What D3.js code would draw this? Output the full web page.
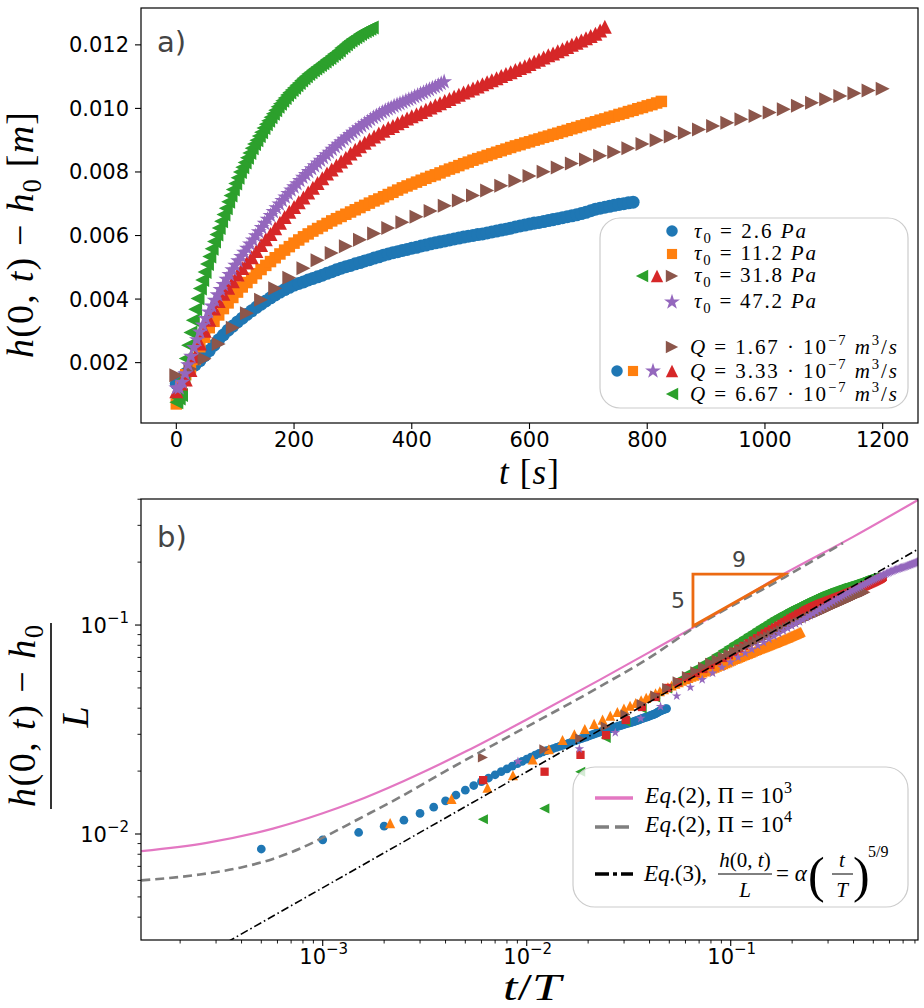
<!DOCTYPE html>
<html><head><meta charset="utf-8">
<script src="https://cdn.jsdelivr.net/npm/d3@7"></script>
<style>body{margin:0;background:#fff}svg{display:block}</style>
</head><body>
<svg id="c" width="924" height="1008"></svg>
<script>
// ================= DATA =================
// h(0,t)-h0 in mm, sampled every dt seconds starting at t = 0
const dtBlue = 8;
const hBlue = [1.34,1.50,1.66,1.80,1.93,2.06,2.22,2.38,2.55,2.72,2.87,3.02,3.15,3.28,3.40,3.52,3.63,3.74,3.84,3.94,4.04,4.13,4.22,4.30,4.37,4.44,4.49,4.54,4.60,4.65,4.70,4.75,4.81,4.86,4.92,4.97,5.02,5.06,5.11,5.15,5.20,5.24,5.29,5.33,5.38,5.42,5.46,5.49,5.53,5.56,5.60,5.63,5.67,5.70,5.74,5.77,5.80,5.83,5.86,5.89,5.92,5.95,5.98,6.00,6.03,6.05,6.08,6.11,6.14,6.17,6.20,6.23,6.27,6.30,6.33,6.36,6.39,6.41,6.44,6.47,6.50,6.53,6.56,6.59,6.62,6.65,6.69,6.73,6.78,6.83,6.86,6.89,6.92,6.95,6.98,7.00,7.03,7.05];
const dtOrange = 8;
const hOrange = [0.70,1.24,1.62,1.83,2.10,2.50,2.80,3.10,3.30,3.50,3.70,3.88,4.05,4.22,4.38,4.52,4.66,4.80,4.93,5.06,5.18,5.30,5.42,5.54,5.65,5.76,5.86,5.96,6.05,6.14,6.22,6.30,6.38,6.46,6.53,6.60,6.67,6.74,6.81,6.88,6.95,7.02,7.09,7.15,7.22,7.29,7.36,7.43,7.50,7.56,7.62,7.68,7.74,7.80,7.86,7.91,7.97,8.03,8.09,8.14,8.20,8.26,8.31,8.37,8.42,8.47,8.52,8.57,8.62,8.67,8.72,8.77,8.82,8.86,8.91,8.95,9.00,9.04,9.09,9.13,9.18,9.22,9.27,9.31,9.36,9.40,9.45,9.49,9.54,9.58,9.63,9.67,9.72,9.76,9.81,9.85,9.90,9.94,9.99,10.03,10.08,10.12,10.17,10.22];
const dtGreen = 4;
const hGreen = [0.75,0.87,0.98,1.47,2.13,2.55,2.95,3.33,3.68,4.02,4.33,4.60,4.85,5.10,5.34,5.58,5.81,6.03,6.24,6.45,6.66,6.86,7.06,7.26,7.45,7.64,7.82,8.00,8.15,8.30,8.45,8.60,8.75,8.88,9.00,9.13,9.25,9.38,9.50,9.61,9.72,9.83,9.94,10.05,10.15,10.24,10.33,10.42,10.50,10.58,10.65,10.73,10.80,10.88,10.95,11.01,11.08,11.14,11.20,11.26,11.31,11.37,11.42,11.48,11.54,11.59,11.65,11.71,11.76,11.82,11.90,11.96,12.02,12.08,12.14,12.19,12.24,12.29,12.34,12.39,12.43,12.47,12.51,12.55];
const dtRed = 8;
const hRed = [1.10,1.34,1.47,1.77,2.20,2.60,3.00,3.35,3.70,3.94,4.17,4.36,4.56,4.77,4.98,5.15,5.32,5.51,5.70,5.88,6.05,6.23,6.40,6.58,6.75,6.90,7.05,7.20,7.35,7.50,7.65,7.80,7.95,8.08,8.20,8.33,8.45,8.58,8.70,8.81,8.92,9.02,9.12,9.21,9.30,9.38,9.45,9.53,9.60,9.68,9.75,9.82,9.89,9.96,10.03,10.10,10.16,10.23,10.30,10.37,10.43,10.50,10.56,10.63,10.69,10.76,10.82,10.89,10.95,11.02,11.08,11.14,11.21,11.27,11.33,11.40,11.47,11.53,11.60,11.67,11.73,11.80,11.86,11.93,12.00,12.07,12.14,12.21,12.28,12.35,12.45,12.57];
const dtBrown = 8;
const hBrown = [1.60,1.66,1.72,1.80,1.88,2.00,2.12,2.27,2.42,2.59,2.76,2.93,3.10,3.25,3.40,3.55,3.70,3.84,3.98,4.10,4.22,4.34,4.45,4.56,4.67,4.78,4.88,4.97,5.06,5.14,5.22,5.30,5.38,5.45,5.52,5.59,5.66,5.73,5.80,5.87,5.93,5.99,6.06,6.12,6.18,6.24,6.30,6.36,6.42,6.48,6.54,6.59,6.65,6.71,6.77,6.82,6.88,6.94,6.99,7.05,7.10,7.15,7.21,7.26,7.31,7.36,7.42,7.47,7.52,7.57,7.62,7.67,7.72,7.77,7.82,7.87,7.92,7.96,8.01,8.05,8.10,8.14,8.18,8.23,8.27,8.31,8.35,8.39,8.43,8.47,8.51,8.55,8.59,8.63,8.67,8.71,8.75,8.79,8.84,8.88,8.92,8.96,9.00,9.04,9.08,9.12,9.16,9.19,9.23,9.27,9.31,9.34,9.38,9.41,9.45,9.48,9.52,9.55,9.59,9.62,9.66,9.69,9.73,9.76,9.80,9.83,9.87,9.90,9.94,9.97,10.01,10.04,10.08,10.11,10.15,10.18,10.22,10.25,10.29,10.32,10.36,10.39,10.42,10.45,10.48,10.51,10.53,10.56,10.58,10.60,10.62];
const dtPurple = 5;
const hPurple = [1.20,1.20,1.38,1.65,1.93,2.20,2.47,2.72,2.96,3.18,3.39,3.59,3.78,3.96,4.13,4.30,4.46,4.62,4.77,4.92,5.06,5.20,5.34,5.47,5.60,5.73,5.86,5.99,6.12,6.25,6.38,6.51,6.63,6.75,6.87,6.99,7.10,7.21,7.32,7.43,7.53,7.63,7.73,7.83,7.92,8.01,8.10,8.19,8.28,8.37,8.45,8.54,8.62,8.71,8.79,8.87,8.95,9.03,9.10,9.18,9.25,9.32,9.39,9.45,9.52,9.58,9.65,9.71,9.77,9.82,9.88,9.93,9.98,10.02,10.07,10.11,10.15,10.19,10.24,10.28,10.32,10.37,10.41,10.46,10.50,10.55,10.59,10.64,10.68,10.73,10.78,10.84];

// normalisation for panel b): t/T and (h-h0)/L  (T in s, L in m)
const normT = [16000, 3738, 656, 1308, 2623, 552];   // blue, orange, green, red, brown, purple
const normL = [0.177, 0.110, 0.074, 0.074, 0.074, 0.054];
const everyTop = [1, 1, 1, 1, 3, 1];
const everyBot = [1, 1, 1, 1, 2, 1];
const seriesColors = ["#1f77b4", "#ff7f0e", "#2ca02c", "#d62728", "#8c564b", "#9467bd"];
const markersTop = ["circle", "square", "triLeft", "triUp", "triRight", "star"];
const markersBot = ["circle", "triUp", "triLeft", "square", "triRight", "star"];

// model curves of panel b)  [t/T, (h-h0)/L]
const eq2Pi3 = [[1.29e-4,0.00828],[2.7e-4,0.00907],[5.7e-4,0.01061],[1e-3,0.01256],[1.4e-3,0.01414],[2.5e-3,0.01795],[5.1e-3,0.0250],[0.01,0.0353],[0.0229,0.0548],[0.0402,0.0744],[0.0653,0.0972],[0.1846,0.1768],[0.4,0.2650],[0.83,0.3975]];
const eq2Pi4 = [[1.29e-4,0.0060],[2.5e-4,0.0064],[3.94e-4,0.0069],[5.7e-4,0.0076],[7.7e-4,0.0085],[1e-3,0.0096],[1.5e-3,0.0118],[2.39e-3,0.0150],[4e-3,0.0200],[7.4e-3,0.0278],[0.0229,0.0508],[0.0402,0.0700],[0.0653,0.0963],[0.1846,0.1697],[0.355,0.2468]];
const eq3 = [[1e-4,0.00154],[1,0.256]];
const slopeTri = [[0.0653,0.1754],[0.1845,0.1754],[0.0653,0.0989]];

const xTicksTop = [0, 200, 400, 600, 800, 1000, 1200];
const yTicksTop = [0.002, 0.004, 0.006, 0.008, 0.010, 0.012];
const yTickLabelsTop = ["0.002", "0.004", "0.006", "0.008", "0.010", "0.012"];
const xTicksBot = [1e-3, 1e-2, 1e-1];
const xTickExpBot = ["\u22123", "\u22122", "\u22121"];
const yTicksBot = [1e-2, 1e-1];
const yTickExpBot = ["\u22122", "\u22121"];

// ================= DRAWING =================
const svg = d3.select("#c");
const SANS = "DejaVu Sans", SERIF = "'Liberation Serif', 'Times New Roman', serif";
const hArr = [hBlue, hOrange, hGreen, hRed, hBrown, hPurple];
const dtArr = [dtBlue, dtOrange, dtGreen, dtRed, dtBrown, dtPurple];

const triUp = {draw(c, s){const a=Math.sqrt(s)/2;c.moveTo(0,-a);c.lineTo(a,a);c.lineTo(-a,a);c.closePath();}};
const triLeft = {draw(c, s){const a=Math.sqrt(s)/2;c.moveTo(-a,0);c.lineTo(a,-a);c.lineTo(a,a);c.closePath();}};
const triRight = {draw(c, s){const a=Math.sqrt(s)/2;c.moveTo(a,0);c.lineTo(-a,-a);c.lineTo(-a,a);c.closePath();}};
function symPath(kind, scale){
  const sz = {circle: 133*scale, square: 132*scale, triUp: 196*scale, triLeft: 196*scale, triRight: 196*scale, star: 78*scale}[kind];
  const ty = {circle: d3.symbolCircle, square: d3.symbolSquare, triUp: triUp, triLeft: triLeft, triRight: triRight, star: d3.symbolStar}[kind];
  return d3.symbol().type(ty).size(sz)();
}

function math(parent, x, y, parts, size, opts = {}) {
  const t = parent.append("text").attr("x", x).attr("y", y)
    .attr("font-family", SERIF).attr("font-size", size).attr("fill", opts.fill || "#000");
  if (opts.anchor) t.attr("text-anchor", opts.anchor);
  if (opts.transform) t.attr("transform", opts.transform);
  let cur = 0;
  parts.forEach(([s, k]) => {
    let off = 0, fs = size;
    if (k.includes("b")) { off = 0.22 * size; fs = 0.7 * size; }
    if (k.includes("p")) { off = -0.42 * size; fs = 0.7 * size; }
    const sp = t.append("tspan").attr("dy", off - cur).attr("font-size", fs).text(s);
    if (k.includes("i")) sp.attr("font-style", "italic");
    cur = off;
  });
  if (opts.len) t.attr("textLength", opts.len).attr("lengthAdjust", opts.adj || "spacing");
  return t;
}

// ---------- panel a ----------
const A = {l: 141, r: 918, t: 8, b: 423};
const xA = d3.scaleLinear().domain([-60, 1260]).range([A.l, A.r]);
const yA = d3.scaleLinear().domain([0.0001, 0.01316]).range([A.b, A.t]);
const gA = svg.append("g");

const drawOrder = [0, 1, 2, 3, 4, 5];
drawOrder.forEach(si => {
  const pts = hArr[si].map((h, i) => ({t: i * dtArr[si], h: h / 1000, i})).filter(d => d.i % everyTop[si] === 0);
  const p = symPath(markersTop[si], 1);
  gA.append("g").selectAll("path").data(pts).join("path")
    .attr("d", p).attr("fill", seriesColors[si])
    .attr("transform", d => `translate(${xA(d.t)},${yA(d.h)})`);
});

gA.append("rect").attr("x", A.l).attr("y", A.t).attr("width", A.r - A.l).attr("height", A.b - A.t)
  .attr("fill", "none").attr("stroke", "#000").attr("stroke-width", 1.2);
xTicksTop.forEach(v => {
  gA.append("line").attr("x1", xA(v)).attr("x2", xA(v)).attr("y1", A.b).attr("y2", A.b + 6).attr("stroke", "#000").attr("stroke-width", 1.1);
  gA.append("text").attr("x", xA(v)).attr("y", A.b + 24).attr("text-anchor", "middle")
    .attr("font-family", SANS).attr("font-size", 21).text(v);
});
yTicksTop.forEach((v, i) => {
  gA.append("line").attr("x1", A.l - 6).attr("x2", A.l).attr("y1", yA(v)).attr("y2", yA(v)).attr("stroke", "#000").attr("stroke-width", 1.1);
  gA.append("text").attr("x", A.l - 12).attr("y", yA(v) + 7.5).attr("text-anchor", "end")
    .attr("font-family", SANS).attr("font-size", 21).text(yTickLabelsTop[i]);
});
gA.append("text").attr("x", 157).attr("y", 52).attr("font-family", SANS).attr("font-size", 29).attr("fill", "#444").text("a)");
math(gA, 529, 484, [["t","i"],[" [",""],["s","i"],["]",""]], 35, {anchor: "middle", len: 60});
math(gA, 33, 235, [["h","i"],["(0, ",""],["t","i"],[") \u2212 ",""],["h","i"],["0","b"],[" [",""],["m","i"],["]",""]], 38,
  {anchor: "middle", transform: "rotate(-90,33,235)", len: 246});

// legend a
const lgA = gA.append("g");
lgA.append("rect").attr("x", 600).attr("y", 218).attr("width", 308).attr("height", 190).attr("rx", 20)
  .attr("fill", "#fff").attr("fill-opacity", 0.8).attr("stroke", "#cccccc").attr("stroke-width", 1.2);
const legRowsA = [
  {y: 231, base: 238, m: [[672, 0]], parts: [["\u03c4","i"],["0","b"],[" = 2.6 ",""],["Pa","i"]], len: 112},
  {y: 254, base: 260, m: [[672, 1]], parts: [["\u03c4","i"],["0","b"],[" = 11.2 ",""],["Pa","i"]], len: 122},
  {y: 276, base: 282, m: [[642, 2], [657, 3], [672, 4]], parts: [["\u03c4","i"],["0","b"],[" = 31.8 ",""],["Pa","i"]], len: 122},
  {y: 302, base: 308, m: [[672, 5]], parts: [["\u03c4","i"],["0","b"],[" = 47.2 ",""],["Pa","i"]], len: 122},
  {y: 347, base: 354, m: [[672, 4]], parts: [["Q","i"],[" = 1.67 \u00b7 10",""],["\u22127","p"],[" ",""],["m","i"],["3","p"],["/",""],["s","i"]], len: 207},
  {y: 371, base: 378, m: [[617, 0], [633, 1], [653, 5], [672, 3]], parts: [["Q","i"],[" = 3.33 \u00b7 10",""],["\u22127","p"],[" ",""],["m","i"],["3","p"],["/",""],["s","i"]], len: 207},
  {y: 394, base: 401, m: [[672, 2]], parts: [["Q","i"],[" = 6.67 \u00b7 10",""],["\u22127","p"],[" ",""],["m","i"],["3","p"],["/",""],["s","i"]], len: 207}
];
legRowsA.forEach((r, ri) => {
  r.m.forEach(([mx, si]) => {
    lgA.append("path").attr("d", symPath(markersTop[si], markersTop[si] === "star" ? 1.0 : 0.78)).attr("fill", seriesColors[si])
      .attr("transform", `translate(${mx},${r.y})`);
  });
  math(lgA, ri < 4 ? 694 : 690, r.base, r.parts, 21, {len: r.len});
});

// ---------- panel b ----------
const B = {l: 141, r: 918, t: 499, b: 940};
const xB = d3.scaleLog().domain([1.286e-4, 0.828]).range([B.l, B.r]);
const yB = d3.scaleLog().domain([0.00311, 0.401]).range([B.b, B.t]);
const gB = svg.append("g");
svg.append("clipPath").attr("id", "clipB").append("rect").attr("x", B.l).attr("y", B.t).attr("width", B.r - B.l).attr("height", B.b - B.t);
const plotB = gB.append("g").attr("clip-path", "url(#clipB)");

drawOrder.forEach(si => {
  const pts = hArr[si].map((h, i) => ({x: i * dtArr[si] / normT[si], y: h / 1000 / normL[si], i}))
    .filter(d => d.i > 0 && d.i % everyBot[si] === 0);
  const p = symPath(markersBot[si], markersBot[si] === "circle" ? 0.45 : (markersBot[si] === "star" ? 0.36 : 0.52));
  plotB.append("g").selectAll("path").data(pts).join("path")
    .attr("d", p).attr("fill", seriesColors[si])
    .attr("transform", d => `translate(${xB(d.x)},${yB(d.y)})`);
});

const lineB = d3.line().x(d => xB(d[0])).y(d => yB(d[1])).curve(d3.curveMonotoneX);
plotB.append("path").attr("d", lineB(eq2Pi3)).attr("fill", "none").attr("stroke", "#e377c2").attr("stroke-width", 2.2);
plotB.append("path").attr("d", lineB(eq2Pi4)).attr("fill", "none").attr("stroke", "#7f7f7f").attr("stroke-width", 2.6).attr("stroke-dasharray", "9,5");
plotB.append("path").attr("d", d3.line().x(d => xB(d[0])).y(d => yB(d[1]))(eq3)).attr("fill", "none").attr("stroke", "#000").attr("stroke-width", 1.6).attr("stroke-dasharray", "8,3,1.6,3");
plotB.append("path").attr("d", d3.line().x(d => xB(d[0])).y(d => yB(d[1]))(slopeTri) + "Z")
  .attr("fill", "none").attr("stroke", "#ec6a12").attr("stroke-width", 2.8).attr("stroke-linejoin", "miter");
gB.append("text").attr("x", xB(Math.sqrt(slopeTri[0][0] * slopeTri[1][0]))).attr("y", yB(slopeTri[0][1]) - 7).attr("text-anchor", "middle")
  .attr("font-family", SANS).attr("font-size", 22).attr("fill", "#444").text("9");
gB.append("text").attr("x", xB(slopeTri[0][0]) - 15).attr("y", yB(Math.sqrt(slopeTri[0][1] * slopeTri[2][1])) + 8).attr("text-anchor", "middle")
  .attr("font-family", SANS).attr("font-size", 22).attr("fill", "#444").text("5");

gB.append("rect").attr("x", B.l).attr("y", B.t).attr("width", B.r - B.l).attr("height", B.b - B.t)
  .attr("fill", "none").attr("stroke", "#000").attr("stroke-width", 1.2);
// ticks
const minorX = [], minorY = [];
[1e-4, 1e-3, 1e-2, 1e-1].forEach(d => { for (let k = 2; k <= 9; k++) { const v = k * d; if (v > 1.286e-4 && v < 0.828) minorX.push(v); } });
[1e-3, 1e-2, 1e-1].forEach(d => { for (let k = 2; k <= 9; k++) { const v = k * d; if (v > 0.00311 && v < 0.401) minorY.push(v); } });
minorX.forEach(v => gB.append("line").attr("x1", xB(v)).attr("x2", xB(v)).attr("y1", B.b).attr("y2", B.b + 3.5).attr("stroke", "#000").attr("stroke-width", 0.9));
minorY.forEach(v => gB.append("line").attr("x1", B.l - 3.5).attr("x2", B.l).attr("y1", yB(v)).attr("y2", yB(v)).attr("stroke", "#000").attr("stroke-width", 0.9));
xTicksBot.forEach((v, i) => {
  gB.append("line").attr("x1", xB(v)).attr("x2", xB(v)).attr("y1", B.b).attr("y2", B.b + 6).attr("stroke", "#000").attr("stroke-width", 1.1);
  const t = gB.append("text").attr("x", xB(v) + 1).attr("y", B.b + 24).attr("text-anchor", "middle").attr("font-family", SANS).attr("font-size", 21);
  t.append("tspan").text("10");
  t.append("tspan").attr("dy", -10).attr("font-size", 15).text(xTickExpBot[i]);
});
yTicksBot.forEach((v, i) => {
  gB.append("line").attr("x1", B.l - 6).attr("x2", B.l).attr("y1", yB(v)).attr("y2", yB(v)).attr("stroke", "#000").attr("stroke-width", 1.1);
  const t = gB.append("text").attr("x", B.l - 12).attr("y", yB(v) + 8).attr("text-anchor", "end").attr("font-family", SANS).attr("font-size", 21);
  t.append("tspan").text("10");
  t.append("tspan").attr("dy", -10).attr("font-size", 15).text(yTickExpBot[i]);
});
gB.append("text").attr("x", 157).attr("y", 547).attr("font-family", SANS).attr("font-size", 29).attr("fill", "#444").text("b)");
math(gB, 532, 1000, [["t","i"],["/",""],["T","i"]], 38, {anchor: "middle", len: 58, adj: "spacingAndGlyphs"});
math(gB, 35, 716, [["h","i"],["(0, ",""],["t","i"],[") \u2212 ",""],["h","i"],["0","b"]], 38,
  {anchor: "middle", transform: "rotate(-90,35,716)", len: 182});
gB.append("line").attr("x1", 51).attr("x2", 51).attr("y1", 623).attr("y2", 809).attr("stroke", "#000").attr("stroke-width", 1.6);
math(gB, 88, 717, [["L","i"]], 38, {anchor: "middle", transform: "rotate(-90,88,717)"});

// legend b
const lgB = gB.append("g");
lgB.append("rect").attr("x", 573).attr("y", 767).attr("width", 335).attr("height", 140).attr("rx", 22)
  .attr("fill", "#fff").attr("fill-opacity", 0.8).attr("stroke", "#cccccc").attr("stroke-width", 1.2);
lgB.append("line").attr("x1", 595).attr("x2", 633).attr("y1", 798).attr("y2", 798).attr("stroke", "#e377c2").attr("stroke-width", 3.5);
lgB.append("line").attr("x1", 595).attr("x2", 633).attr("y1", 827).attr("y2", 827).attr("stroke", "#7f7f7f").attr("stroke-width", 3.5).attr("stroke-dasharray", "14,6");
lgB.append("line").attr("x1", 595).attr("x2", 633).attr("y1", 874).attr("y2", 874).attr("stroke", "#000").attr("stroke-width", 3.5).attr("stroke-dasharray", "14,4,4,4");
math(lgB, 645, 803, [["Eq","i"],[".(2),  \u03a0 = 10",""],["3","p"]], 23, {len: 147});
math(lgB, 645, 832, [["Eq","i"],[".(2),  \u03a0 = 10",""],["4","p"]], 23, {len: 147});
math(lgB, 644, 881, [["Eq","i"],[".(3),",""]], 23, {len: 63});
math(lgB, 745, 867, [["h","i"],["(0, ",""],["t","i"],[")",""]], 21, {anchor: "middle"});
lgB.append("line").attr("x1", 718).attr("x2", 772).attr("y1", 874).attr("y2", 874).attr("stroke", "#000").attr("stroke-width", 1);
math(lgB, 745, 897, [["L","i"]], 21, {anchor: "middle"});
math(lgB, 776, 881, [["= ",""],["\u03b1","i"]], 23);
lgB.append("text").attr("x", 808).attr("y", 892).attr("font-family", SERIF).attr("font-size", 50).text("(");
math(lgB, 842, 867, [["t","i"]], 21, {anchor: "middle"});
lgB.append("line").attr("x1", 832).attr("x2", 853).attr("y1", 874).attr("y2", 874).attr("stroke", "#000").attr("stroke-width", 1);
math(lgB, 842, 897, [["T","i"]], 21, {anchor: "middle"});
lgB.append("text").attr("x", 853).attr("y", 892).attr("font-family", SERIF).attr("font-size", 50).text(")");
math(lgB, 868, 857, [["5/9",""]], 16);
</script>
</body></html>
